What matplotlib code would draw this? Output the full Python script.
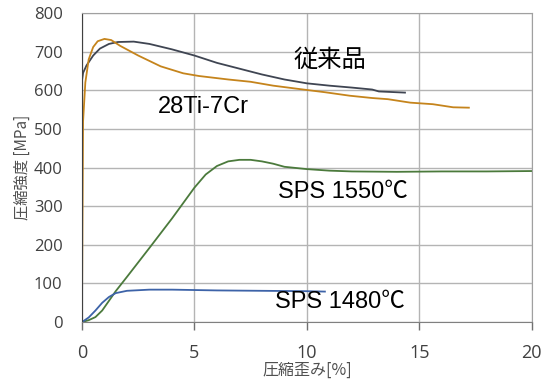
''' compression stress-strain curves '''
import matplotlib
matplotlib.use('Agg')
import matplotlib.pyplot as plt

# conventional material (従来品)
conv_x = [0, 0.05, 0.2, 0.5, 0.8, 1.2, 1.6, 2.3, 3, 4, 5, 6, 7, 8, 9, 10, 11, 12, 12.9, 13.2, 14.36]
conv_y = [625, 645, 664, 690, 708, 720, 725, 726, 720, 706, 690, 671, 656, 641, 628, 618, 612, 607, 602, 597, 594]

# 28Ti-7Cr
ti_x = [0, 0.02, 0.05, 0.15, 0.3, 0.5, 0.7, 1.0, 1.3, 1.7, 2.5, 3.5, 4.5, 5.2, 6.5, 7.5, 8.5, 9.7,
        10.8, 11.9, 12.9, 13.6, 14.6, 15.6, 16.5, 17.2]
ti_y = [0, 240, 520, 620, 680, 712, 727, 733, 730, 715, 690, 662, 644, 637, 628, 622, 612, 603,
        595, 586, 580, 577, 568, 564, 556, 555]

# SPS 1550℃
s1550_x = [0, 0.3, 0.6, 0.9, 1.2, 1.5, 2, 3, 4, 5, 5.5, 6, 6.5, 7, 7.5, 8, 8.5, 9, 10, 11, 12, 14, 16, 18, 20]
s1550_y = [0, 5, 13, 30, 55, 80, 117, 192, 268, 348, 382, 404, 416, 420, 420, 416, 410, 402, 396, 392, 390, 389, 390, 390, 391]

# SPS 1480℃
s1480_x = [0, 0.3, 0.6, 0.9, 1.2, 1.5, 2, 3, 4, 5, 6, 8, 10, 10.8]
s1480_y = [0, 12, 30, 50, 65, 75, 81, 84, 84, 83, 82, 81, 80, 79]

x_ticks = [0, 5, 10, 15, 20]
y_ticks = [0, 100, 200, 300, 400, 500, 600, 700, 800]

jp = ['Noto Sans CJK JP', 'DejaVu Sans']
lat = ['Liberation Sans', 'Noto Sans CJK JP']

fig = plt.figure(figsize=(5.5, 3.83), dpi=100)
ax = fig.add_axes([0.149, 0.159, 0.818, 0.807])

ax.plot(conv_x, conv_y, color='#3f4552', lw=1.3)
ax.plot(ti_x, ti_y, color='#c5841c', lw=1.3)
ax.plot(s1550_x, s1550_y, color='#4b7a3c', lw=1.3)
ax.plot(s1480_x, s1480_y, color='#3d63a8', lw=1.3)

ax.set_xlim(0, 20)
ax.set_ylim(0, 800)
ax.set_xticks(x_ticks)
ax.set_yticks(y_ticks)
ax.grid(True, color='#b4b4b4', lw=1)
ax.set_axisbelow(True)

for s in ['top', 'right']:
    ax.spines[s].set_color('#a0a0a0')
ax.spines['bottom'].set_color('#808080')
ax.spines['left'].set_color('#404040')
ax.tick_params(axis='x', length=6, width=1, color='#707070', labelsize=13, labelcolor='#404040', pad=10)
ax.tick_params(axis='y', length=0, labelsize=12, labelcolor='#404040', pad=14)
for lab in ax.get_xticklabels() + ax.get_yticklabels():
    lab.set_family(['Open Sans', 'DejaVu Sans'])

ax.set_xlabel('圧縮歪み[%]', family=jp, fontsize=11.5, color='#505050')
ax.xaxis.set_label_coords(0.5, -0.13)
ax.set_ylabel('圧縮強度 [MPa]', family=jp, fontsize=11, color='#505050', labelpad=2)

ax.text(11.0, 678, '従来品', family=jp, fontsize=17.5, color='black', va='center', ha='center')
ax.text(5.42, 557, '28Ti-7Cr', family=lat, fontsize=17, color='black', va='center', ha='center')
ax.text(11.6, 337, 'SPS 1550℃', family=lat, fontsize=17, color='black', va='center', ha='center')
ax.text(11.47, 52, 'SPS 1480℃', family=lat, fontsize=17, color='black', va='center', ha='center')

fig.savefig('out.png', dpi=100)
